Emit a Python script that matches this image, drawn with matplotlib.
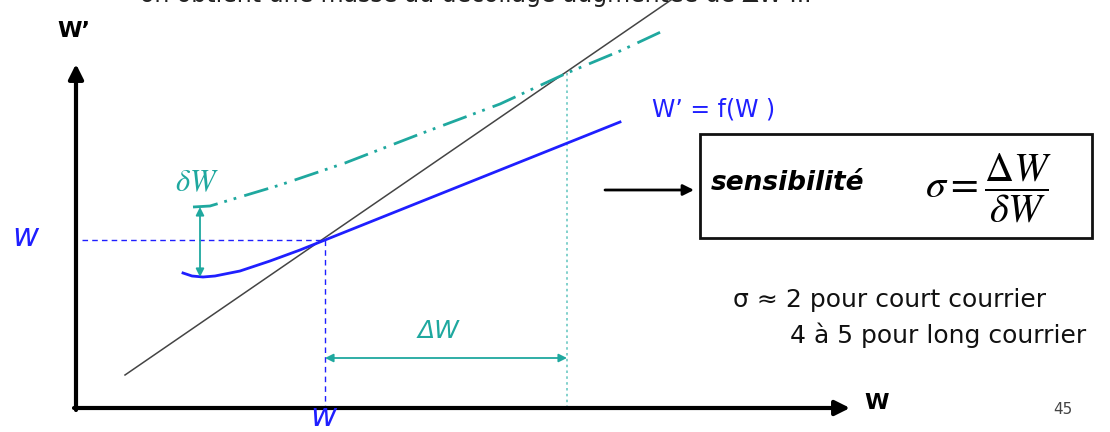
import matplotlib
matplotlib.use('Agg')
import matplotlib.pyplot as plt
from matplotlib.patches import Rectangle

plt.rcParams['font.family'] = ['DejaVu Sans']
plt.rcParams['mathtext.fontset'] = 'stix'

# diagram drawn in pixel-like units (y grows downward)
# W' = f(W) curve (blue)
f_x = [183, 192, 203, 215, 240, 270, 300, 325, 400, 480, 560, 620]
f_y = [273, 276, 277, 276, 271, 261, 250, 240, 210, 178, 146, 122]
# upper curve (teal, dash-dot-dot)
g_x = [193, 210, 240, 280, 345, 420, 500, 567, 620, 665]
g_y = [207, 206, 197, 185, 163, 134, 104, 73, 51, 30]
# W' = W line (grey)
diag_x = [125, 671]
diag_y = [375, 0]

w0 = (325, 240)       # intersection with blue curve
w1 = (567, 73)        # intersection with teal curve
dw_x = 200            # delta-W arrow position
dW_y = 358            # Delta-W arrow height

blue = '#1f1fff'
teal = '#1fa89f'

fig = plt.figure(figsize=(11.1, 4.32), dpi=100)
ax = fig.add_axes([0, 0, 1, 1])
ax.set_xlim(0, 1110)
ax.set_ylim(432, 0)
ax.axis('off')

# truncated title at top (only its lower edge is visible)
ax.text(476, 2, "on obtient une masse au décollage augmentée de \u0394W ...", fontsize=17,
        ha='center', va='baseline', color='#222222')

# axes
ax.annotate('', xy=(76, 64), xytext=(76, 410),
            arrowprops=dict(arrowstyle='-|>', lw=3, mutation_scale=22, color='k', shrinkA=0, shrinkB=0))
ax.annotate('', xy=(850, 408), xytext=(74, 408),
            arrowprops=dict(arrowstyle='-|>', lw=3, mutation_scale=22, color='k', shrinkA=0, shrinkB=0))
ax.text(57, 31, "W\u2019", fontsize=16, fontweight='bold', ha='left', va='center')
ax.text(864, 403, "W", fontsize=16, fontweight='bold', ha='left', va='center')

# guide lines
ax.plot([82, w0[0]], [w0[1], w0[1]], color=blue, lw=1, dashes=(4, 3))
ax.plot([w0[0], w0[0]], [w0[1], 408], color=blue, lw=1, dashes=(4, 3))
ax.plot([w1[0], w1[0]], [w1[1], 408], color='#6cc9c4', lw=1.2, dashes=(1.5, 2))

# curves
ax.plot(diag_x, diag_y, color='#444444', lw=1.1)
ax.plot(f_x, f_y, color=blue, lw=2)
ax.plot(g_x, g_y, color=teal, lw=2, dashes=(9, 2.5, 1, 2.5, 1, 3))

# delta W (small)
ax.annotate('', xy=(dw_x, g_y[0]), xytext=(dw_x, f_y[2]),
            arrowprops=dict(arrowstyle='<|-|>', lw=1.3, mutation_scale=12, color=teal, shrinkA=0, shrinkB=0))
ax.text(dw_x - 3, 183, r"$\delta W$", fontsize=22, color=teal, ha='center', va='center')

# Delta W (large)
ax.annotate('', xy=(w0[0], dW_y), xytext=(w1[0], dW_y),
            arrowprops=dict(arrowstyle='<|-|>', lw=1.3, mutation_scale=12, color=teal, shrinkA=0, shrinkB=0))
ax.text(439, 331, "\u0394W", fontsize=18, style='italic', color=teal, ha='center', va='center')

# w labels
ax.text(25, 237, "w", fontsize=23, style='italic', color=blue, ha='center', va='center')
ax.text(323, 417, "w", fontsize=23, style='italic', color=blue, ha='center', va='center')

ax.text(652, 110, "W\u2019 = f(W )", fontsize=17, color=blue, ha='left', va='center')

# arrow to box
ax.annotate('', xy=(694, 190), xytext=(605, 190),
            arrowprops=dict(arrowstyle='-|>', lw=2, mutation_scale=16, color='k', shrinkA=0, shrinkB=0))

# box
ax.add_patch(Rectangle((700, 134), 392, 104, fill=False, lw=2, ec='#111111'))
ax.text(711, 183, "sensibilité", fontsize=19, fontweight='bold', style='italic', ha='left', va='center')
ax.text(988, 188, r"$\sigma = \dfrac{\Delta W}{\delta W}$", fontsize=29, ha='center', va='center')

ax.text(733, 300, "\u03c3 \u2248 2 pour court courrier", fontsize=18, ha='left', va='center', color='#111111')
ax.text(790, 335, "4 à 5 pour long courrier", fontsize=18, ha='left', va='center', color='#111111')

ax.text(1063, 410, "45", fontsize=11, color='#444444', ha='center', va='center')

fig.savefig('out.png', dpi=100)
